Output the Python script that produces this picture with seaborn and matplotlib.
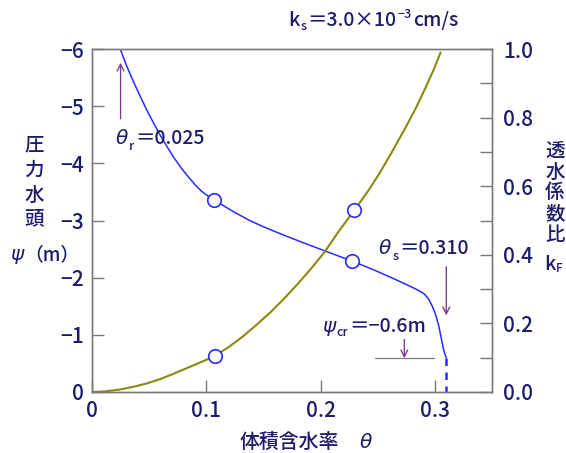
import numpy as np
import matplotlib
matplotlib.use("Agg")
import matplotlib.pyplot as plt
import seaborn as sns

# --- data -----------------------------------------------------------------
# water retention curve: volumetric water content vs. pressure head (m)
theta_ret = [0.0247, 0.030, 0.036, 0.042, 0.048, 0.054, 0.060, 0.066, 0.072,
             0.078, 0.084, 0.090, 0.096, 0.102, 0.107, 0.115, 0.125, 0.138,
             0.150, 0.1671, 0.185, 0.2035, 0.2276, 0.245, 0.262, 0.274,
             0.2835, 0.2905, 0.2945, 0.298, 0.301, 0.3035, 0.3055, 0.3072,
             0.3085, 0.310]
psi_ret = [-6.0, -5.72, -5.44, -5.18, -4.93, -4.70, -4.48, -4.28, -4.09,
           -3.92, -3.77, -3.63, -3.51, -3.42, -3.36, -3.26, -3.14, -3.00,
           -2.89, -2.75, -2.61, -2.47, -2.29, -2.15, -2.00, -1.89,
           -1.80, -1.72, -1.63, -1.49, -1.33, -1.15, -0.95, -0.78,
           -0.68, -0.60]

# relative hydraulic conductivity curve
theta_k = [0.0, 0.012, 0.024, 0.036, 0.048, 0.060, 0.072, 0.084, 0.096, 0.108,
           0.120, 0.132, 0.144, 0.156, 0.168, 0.180, 0.192, 0.2035, 0.216,
           0.2296, 0.242, 0.2514, 0.262, 0.2747, 0.284, 0.2921, 0.299, 0.305]
k_ratio = [0.0, 0.002, 0.007, 0.015, 0.025, 0.038, 0.054, 0.071, 0.088, 0.106,
           0.132, 0.162, 0.196, 0.232, 0.272, 0.315, 0.361, 0.408, 0.469,
           0.530, 0.588, 0.637, 0.697, 0.773, 0.832, 0.889, 0.940, 0.990]

# measured points
theta_pts_psi = [0.107, 0.2276]
psi_pts = [-3.36, -2.29]
theta_pts_k = [0.108, 0.2296]
k_pts = [0.106, 0.530]

theta_r = 0.025
theta_s = 0.310
psi_cr = -0.6

x_ticks = [0, 0.1, 0.2, 0.3]
x_ticklabels = ["0", "0.1", "0.2", "0.3"]
psi_ticks = [-6, -5, -4, -3, -2, -1, 0]
psi_ticklabels = ["\u22126", "\u22125", "\u22124", "\u22123", "\u22122", "\u22121", "0"]
k_ticks = [0.0, 0.1, 0.2, 0.3, 0.4, 0.5, 0.6, 0.7, 0.8, 0.9, 1.0]
k_ticklabels = ["0.0", "", "0.2", "", "0.4", "", "0.6", "", "0.8", "", "1.0"]

# --- style ----------------------------------------------------------------
sns.set_style("ticks")
plt.rcParams["font.family"] = ["Noto Sans CJK JP", "DejaVu Sans"]

BLUE = "#2b2bff"
OLIVE = "#8a8a12"
PURPLE = "#7d3c98"
GRAY = "#7a7a7a"
NAVY = "#1c1c6a"
CJK = ["Noto Sans CJK JP", "DejaVu Sans"]
WEIGHT = "medium"

W, H = 566, 453
fig = plt.figure(figsize=(W / 100, H / 100), dpi=100)
fig.patch.set_facecolor("white")

ax = fig.add_axes([92 / W, 1 - 392 / H, (492 - 92) / W, (392 - 49) / H])
ax2 = ax.twinx()

# pressure-head curve (left axis)
sns.lineplot(x=theta_ret, y=psi_ret, ax=ax, color=BLUE, lw=1.1,
             sort=False, estimator=None)
sns.lineplot(x=[theta_s, theta_s], y=[psi_cr, 0], ax=ax, color=BLUE, lw=1.8,
             sort=False, estimator=None, linestyle=(0, (3.0, 2.6)))
sns.scatterplot(x=theta_pts_psi, y=psi_pts, ax=ax, marker="o", s=95,
                facecolor="white", edgecolor=BLUE, linewidth=1.2, zorder=6)

# conductivity ratio curve (right axis)
sns.lineplot(x=theta_k, y=k_ratio, ax=ax2, color=OLIVE, lw=1.5,
             sort=False, estimator=None)
sns.scatterplot(x=theta_pts_k, y=k_pts, ax=ax2, marker="o", s=95,
                facecolor="white", edgecolor=BLUE, linewidth=1.2, zorder=6)

ax.set_xlim(0, 0.35)
ax.set_ylim(0, -6)
ax2.set_ylim(0, 1)
for a in (ax, ax2):
    a.set_xlabel("")
    a.set_ylabel("")
    for sp in a.spines.values():
        sp.set_color(GRAY)
        sp.set_linewidth(1.0)

ax.set_xticks(x_ticks)
ax.set_xticklabels(x_ticklabels, fontweight=WEIGHT)
ax.set_yticks(psi_ticks)
ax.set_yticklabels(psi_ticklabels, fontweight=WEIGHT)
ax2.set_yticks(k_ticks)
ax2.set_yticklabels(k_ticklabels, fontweight=WEIGHT)

ax.tick_params(axis="both", direction="in", length=8.5, width=1.0, color=GRAY,
               labelcolor=NAVY, labelsize=15)
ax.tick_params(axis="x", pad=6)
ax.tick_params(axis="y", pad=6)
ax2.tick_params(axis="y", direction="in", length=8.5, width=1.0, color=GRAY,
                labelcolor=NAVY, labelsize=15, pad=8)

# --- annotations ----------------------------------------------------------
arrow = dict(arrowstyle="->", color=PURPLE, lw=1.0, shrinkA=0, shrinkB=0,
             mutation_scale=12)
ax.annotate("", xy=(theta_r, -5.76), xytext=(theta_r, -4.78), arrowprops=arrow)
ax.annotate("", xy=(theta_s, -1.34), xytext=(theta_s, -2.19), arrowprops=arrow)
ax.annotate("", xy=(0.2733, -0.59), xytext=(0.2733, -0.92), arrowprops=arrow)
sns.lineplot(x=[0.248, 0.2995], y=[psi_cr, psi_cr], ax=ax, color=GRAY, lw=0.9,
             sort=False, estimator=None)

renderer = fig.canvas.get_renderer()


def runs(x, y, parts):
    """Lay out text pieces left to right starting at pixel (x, y)."""
    cx = x
    for s, size, dy, italic in parts:
        if italic:
            kw = dict(family=["DejaVu Sans"], style="italic")
        else:
            kw = dict(family=CJK, fontweight=WEIGHT)
        t = fig.text(cx / W, 1 - (y + dy) / H, s, fontsize=size, color=NAVY,
                     ha="left", va="center", **kw)
        cx += t.get_window_extent(renderer=renderer).width + 1


runs(116, 138, [("\u03b8", 14.5, 0, True), ("r", 9, 9, False),
                ("\uff1d0.025", 14, 0, False)])
runs(379, 248, [("\u03b8", 14.5, 0, True), ("s", 9, 8, False),
                ("\uff1d0.310", 14, 0, False)])
runs(322, 327, [("\u03c8", 14.5, 0, True), ("cr", 9, 6, False),
                ("\uff1d\u22120.6m", 14, 0, False)])
runs(288, 21, [("k", 14, 0, False), ("s", 9, 6, False),
               ("\uff1d3.0\u00d710", 14, 0, False), ("\u22123", 9, -6, False),
               ("cm/s", 14, 0, False)])

# axis titles
for i, ch in enumerate("圧力水頭"):
    fig.text(34 / W, 1 - (145 + 25 * i) / H, ch, fontsize=14, color=NAVY,
             ha="center", va="center", family=CJK, fontweight=WEIGHT)
runs(10, 255, [("\u03c8", 14.5, 0, True), ("\uff08m\uff09", 13.5, 0, False)])

for i, ch in enumerate("透水係数比"):
    fig.text(555 / W, 1 - (151 + 21 * i) / H, ch, fontsize=14, color=NAVY,
             ha="center", va="center", family=CJK, fontweight=WEIGHT)
runs(544, 264, [("k", 14, 0, False), ("F", 8.5, 5, False)])

runs(240, 442, [("体積含水率", 14.3, 0, False), ("\u3000", 13, 0, False),
                ("\u03b8", 14.5, 0, True)])

fig.savefig("out.png", dpi=100, facecolor="white")
